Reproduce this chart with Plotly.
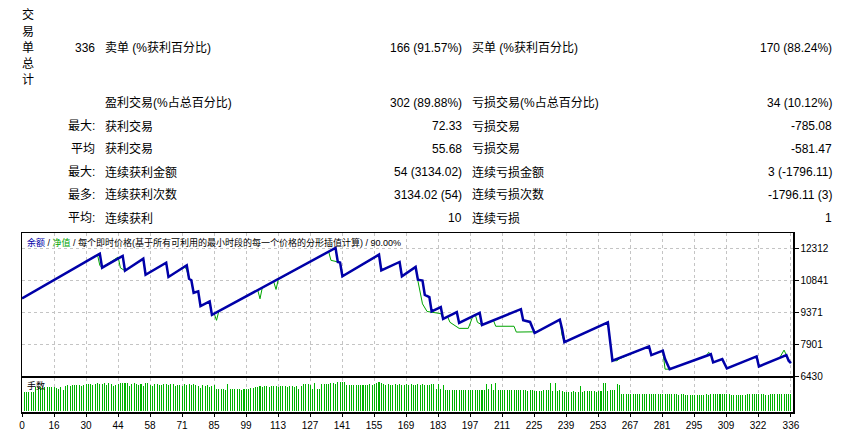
import numpy as np
import plotly.graph_objects as go

# ---------------- data ----------------
total_label = "交易单总计"
total_value = "336"
left_labels = [total_value, "", "最大:", "平均", "最大:", "最多:", "平均:"]
win_labels = ["卖单 (%获利百分比)", "盈利交易(%占总百分比)", "获利交易", "获利交易",
              "连续获利金额", "连续获利次数", "连续获利"]
win_values = ["166 (91.57%)", "302 (89.88%)", "72.33", "55.68",
              "54 (3134.02)", "3134.02 (54)", "10"]
loss_labels = ["买单 (%获利百分比)", "亏损交易(%占总百分比)", "亏损交易", "亏损交易",
               "连续亏损金额", "连续亏损次数", "连续亏损"]
loss_values = ["170 (88.24%)", "34 (10.12%)", "-785.08", "-581.47",
               "3 (-1796.11)", "-1796.11 (3)", "1"]

chart_title_balance = "余额"
chart_title_equity = "净值"
chart_title_rest = "每个即时价格(基于所有可利用的最小时段的每一个价格的分形插值计算) / 90.00%"
volume_label = "手数"

y_ticks = [6430, 7901, 9371, 10841, 12312]
x_tick_labels = ["0", "16", "30", "44", "58", "71", "85", "99", "113", "127", "141", "155",
                 "169", "183", "197", "211", "225", "239", "253", "267", "281", "295",
                 "309", "322", "336"]

balance_n = [0, 34, 35, 44, 45, 53, 54, 63, 64, 72, 73, 74, 75, 77, 78, 82, 83, 137, 138,
             139, 140, 156, 157, 165, 166, 172, 173, 175, 176, 178, 179, 183, 184, 190, 191,
             200, 201, 218, 219, 222, 224, 235, 236, 237, 256, 257, 258, 274, 275, 280, 281,
             283, 301, 302, 306, 308, 321, 322, 334, 335, 336]
balance_v = [10000, 12057, 11410, 11951, 11272, 11826, 11087, 11641, 10981, 11521, 10902,
             10830, 10255, 10320, 9641, 9858, 9239, 12320, 11674, 11650, 11013, 12011, 11290,
             11674, 11013, 11443, 10856, 10820, 10163, 10057, 9396, 9595, 9054, 9364, 8869,
             9331, 8777, 9502, 8994, 8916, 8407, 9026, 8592, 7990, 8902, 8100, 7132, 7793,
             7391, 7594, 7206, 6744, 7430, 7054, 7206, 6776, 7331, 6869, 7391, 7132, 7021]

equity_n = [0, 33, 34, 35, 42, 43, 45, 53, 54, 63, 64, 71, 72, 73, 74, 75, 77, 78, 82, 83,
            84, 85, 86, 103, 104, 105, 110, 111, 112, 134, 135, 138, 139, 140, 156, 157, 165,
            166, 172, 173, 175, 177, 183, 184, 186, 187, 191, 195, 197, 198, 199, 201, 206,
            207, 215, 216, 223, 224, 235, 236, 237, 256, 257, 258, 260, 261, 274, 275, 280,
            281, 283, 299, 300, 301, 302, 306, 307, 308, 321, 322, 331, 333, 334, 336]
equity_v = [10000, 12000, 11520, 11410, 11900, 11400, 11272, 11826, 11087, 11641, 10981,
            11480, 11300, 10900, 10800, 10255, 10320, 9641, 9858, 9239, 9290, 8990, 9410,
            10380, 9980, 10490, 10760, 10410, 10870, 12150, 11750, 11674, 11650, 11013,
            11990, 11300, 11674, 11013, 11443, 10800, 9747, 9396, 9300, 9054, 9150, 8900,
            8620, 8620, 9180, 9280, 8900, 8777, 8990, 8717, 8717, 8450, 8460, 8407, 9026,
            8300, 7990, 8902, 8100, 7132, 7132, 7220, 7793, 7391, 7594, 6744, 6744, 7354,
            7516, 7430, 7054, 7206, 6980, 6776, 7331, 6869, 7260, 7620, 7391, 7021]

lots = [
    0.19, 0.19, 0.19, 0.19, 0.19, 0.24, 0.24, 0.24, 0.23, 0.24, 0.24, 0.24, 0.24, 0.24,
    0.23, 0.22, 0.24, 0.21, 0.25, 0.26, 0.25, 0.26, 0.26, 0.26, 0.26, 0.25, 0.26, 0.27,
    0.27, 0.27, 0.26, 0.27, 0.28, 0.27, 0.27, 0.28, 0.26, 0.28, 0.27, 0.25, 0.26, 0.27,
    0.28, 0.28, 0.28, 0.28, 0.25, 0.27, 0.28, 0.27, 0.26, 0.27, 0.25, 0.28, 0.28, 0.26,
    0.25, 0.27, 0.27, 0.26, 0.26, 0.27, 0.27, 0.26, 0.27, 0.27, 0.25, 0.26, 0.26, 0.25,
    0.27, 0.26, 0.27, 0.26, 0.27, 0.26, 0.25, 0.23, 0.26, 0.25, 0.26, 0.24, 0.25, 0.26,
    0.22, 0.22, 0.22, 0.22, 0.21, 0.27, 0.22, 0.22, 0.22, 0.22, 0.22, 0.21, 0.22, 0.22,
    0.22, 0.23, 0.23, 0.24, 0.24, 0.25, 0.24, 0.25, 0.25, 0.24, 0.25, 0.25, 0.25, 0.24,
    0.25, 0.25, 0.25, 0.24, 0.25, 0.25, 0.24, 0.25, 0.22, 0.25, 0.27, 0.27, 0.27, 0.26,
    0.22, 0.28, 0.22, 0.22, 0.27, 0.27, 0.27, 0.27, 0.28, 0.28, 0.27, 0.29, 0.29, 0.29,
    0.29, 0.26, 0.26, 0.26, 0.26, 0.26, 0.26, 0.26, 0.26, 0.26, 0.26, 0.27, 0.26, 0.27,
    0.28, 0.29, 0.28, 0.27, 0.26, 0.27, 0.26, 0.26, 0.27, 0.26, 0.27, 0.26, 0.26, 0.27,
    0.26, 0.27, 0.26, 0.26, 0.27, 0.26, 0.27, 0.26, 0.26, 0.26, 0.27, 0.27, 0.22, 0.27,
    0.22, 0.26, 0.21, 0.21, 0.21, 0.21, 0.21, 0.21, 0.21, 0.21, 0.21, 0.21, 0.21, 0.21,
    0.21, 0.21, 0.21, 0.21, 0.21, 0.21, 0.27, 0.22, 0.27, 0.21, 0.28, 0.21, 0.21, 0.21,
    0.21, 0.21, 0.21, 0.21, 0.21, 0.21, 0.21, 0.21, 0.21, 0.21, 0.20, 0.21, 0.21, 0.20,
    0.20, 0.20, 0.20, 0.21, 0.21, 0.21, 0.28, 0.20, 0.28, 0.20, 0.21, 0.20, 0.19, 0.19,
    0.19, 0.19, 0.20, 0.19, 0.19, 0.25, 0.19, 0.20, 0.20, 0.20, 0.20, 0.20, 0.19, 0.20,
    0.20, 0.28, 0.28, 0.20, 0.21, 0.21, 0.21, 0.27, 0.26, 0.17, 0.17, 0.17, 0.17, 0.17,
    0.17, 0.17, 0.17, 0.17, 0.17, 0.17, 0.17, 0.17, 0.17, 0.17, 0.17, 0.17, 0.17, 0.17,
    0.17, 0.17, 0.17, 0.17, 0.17, 0.17, 0.16, 0.17, 0.17, 0.16, 0.16, 0.16, 0.16, 0.16,
    0.16, 0.16, 0.16, 0.16, 0.17, 0.16, 0.17, 0.17, 0.17, 0.17, 0.17, 0.17, 0.17, 0.17,
    0.17, 0.16, 0.16, 0.16, 0.16, 0.16, 0.16, 0.16, 0.17, 0.17, 0.17, 0.17, 0.17, 0.17,
    0.17, 0.17, 0.16, 0.16, 0.17, 0.17, 0.17, 0.17, 0.17, 0.17, 0.17, 0.17, 0.17, 0.17,
]
trade_no = list(range(1, len(lots) + 1))

# ---------------- layout geometry ----------------
W, H = 858, 431
L, R, T, B = 22, 65, 233, 19
PW, PH = W - L - R, H - T - B


def px_x(px):
    return (px - L) / PW


def px_y(py):
    return (H - B - py) / PH


main_dom = [px_y(376), 1.0]
vol_dom = [0.0, px_y(378)]

X_MAX = 336.9
step = 32 / (PW / X_MAX)
x_tickvals = [i * step for i in range(len(x_tick_labels) - 1)] + [336]

BLUE = "#0000A8"
GREEN = "#00A400"
BAR_GREEN = "#00B400"
GRID = "#c4c4c4"
FONT = "Liberation Sans, Noto Sans CJK SC, sans-serif"

fig = go.Figure()
fig.add_trace(go.Scatter(x=equity_n, y=equity_v, mode="lines",
                         line=dict(color=GREEN, width=1), xaxis="x", yaxis="y",
                         hoverinfo="skip", showlegend=False))
fig.add_trace(go.Scatter(x=balance_n, y=balance_v, mode="lines",
                         line=dict(color=BLUE, width=2.5), xaxis="x", yaxis="y",
                         hoverinfo="skip", showlegend=False))
fig.add_trace(go.Bar(x=trade_no, y=lots, width=0.45, marker=dict(color=BAR_GREEN, line=dict(width=0)),
                     xaxis="x2", yaxis="y2", hoverinfo="skip", showlegend=False))

axis_common = dict(showline=True, mirror=True, linecolor="black", linewidth=1.5,
                   zeroline=False, fixedrange=True, automargin=False)

fig.update_layout(
    width=W, height=H,
    margin=dict(l=L, r=R, t=T, b=B, pad=0, autoexpand=False),
    paper_bgcolor="white", plot_bgcolor="white",
    font=dict(family=FONT, size=9, color="black"),
    xaxis=dict(domain=[0, 1], anchor="y", range=[0, X_MAX], tickvals=x_tickvals,
               showticklabels=False, ticks="", showgrid=True, gridcolor=GRID,
               griddash="3px,3px", gridwidth=1, **axis_common),
    yaxis=dict(domain=main_dom, anchor="x", range=[6430, 13005], side="right",
               tickvals=y_ticks, ticktext=[str(v) for v in y_ticks], ticks="outside",
               ticklen=4, tickcolor="black", showgrid=True, gridcolor=GRID,
               griddash="3px,3px", gridwidth=1, tickfont=dict(size=10), **axis_common),
    xaxis2=dict(domain=[0, 1], anchor="y2", range=[0, X_MAX], tickvals=x_tickvals,
                ticktext=x_tick_labels, ticks="outside", ticklen=3, tickcolor="black",
                showgrid=True, gridcolor=GRID, griddash="3px,3px", gridwidth=1,
                tickfont=dict(size=10), **axis_common),
    yaxis2=dict(domain=vol_dom, anchor="x2", range=[-0.015, 0.325], showticklabels=False,
                ticks="", showgrid=False, **axis_common),
    bargap=0,
)

ann = []
vert_y = [15, 31.5, 47.7, 63.7, 80]
for ch, yy in zip(total_label, vert_y):
    ann.append(dict(x=px_x(28), y=px_y(yy), xref="paper", yref="paper", text=ch,
                    showarrow=False, xanchor="center", yanchor="middle", font=dict(size=12)))
row_y = [47.5, 102.5, 126, 148.5, 172, 195, 218]
for i, yy in enumerate(row_y):
    if left_labels[i]:
        ann.append(dict(x=px_x(97), y=px_y(yy), xref="paper", yref="paper",
                        text=left_labels[i], showarrow=False, xanchor="right",
                        yanchor="middle", font=dict(size=12)))
    ann.append(dict(x=px_x(103), y=px_y(yy), xref="paper", yref="paper",
                    text=win_labels[i], showarrow=False, xanchor="left",
                    yanchor="middle", font=dict(size=12)))
    ann.append(dict(x=px_x(464), y=px_y(yy), xref="paper", yref="paper",
                    text=win_values[i], showarrow=False, xanchor="right",
                    yanchor="middle", font=dict(size=12)))
    ann.append(dict(x=px_x(470), y=px_y(yy), xref="paper", yref="paper",
                    text=loss_labels[i], showarrow=False, xanchor="left",
                    yanchor="middle", font=dict(size=12)))
    ann.append(dict(x=px_x(834), y=px_y(yy), xref="paper", yref="paper",
                    text=loss_values[i], showarrow=False, xanchor="right",
                    yanchor="middle", font=dict(size=12)))

title_html = (f'<span style="color:{BLUE}">{chart_title_balance}</span> / '
              f'<span style="color:{GREEN}">{chart_title_equity}</span> / {chart_title_rest}')
ann.append(dict(x=px_x(25), y=px_y(242), xref="paper", yref="paper", text=title_html,
                showarrow=False, xanchor="left", yanchor="middle", font=dict(size=9)))
ann.append(dict(x=px_x(25), y=px_y(385), xref="paper", yref="paper", text=volume_label,
                showarrow=False, xanchor="left", yanchor="middle", font=dict(size=9)))

fig.update_layout(annotations=ann)
fig.write_html("out.html", config={"displayModeBar": False, "staticPlot": True},
               post_script="document.body.style.margin='0px';document.body.style.overflow='hidden';")
